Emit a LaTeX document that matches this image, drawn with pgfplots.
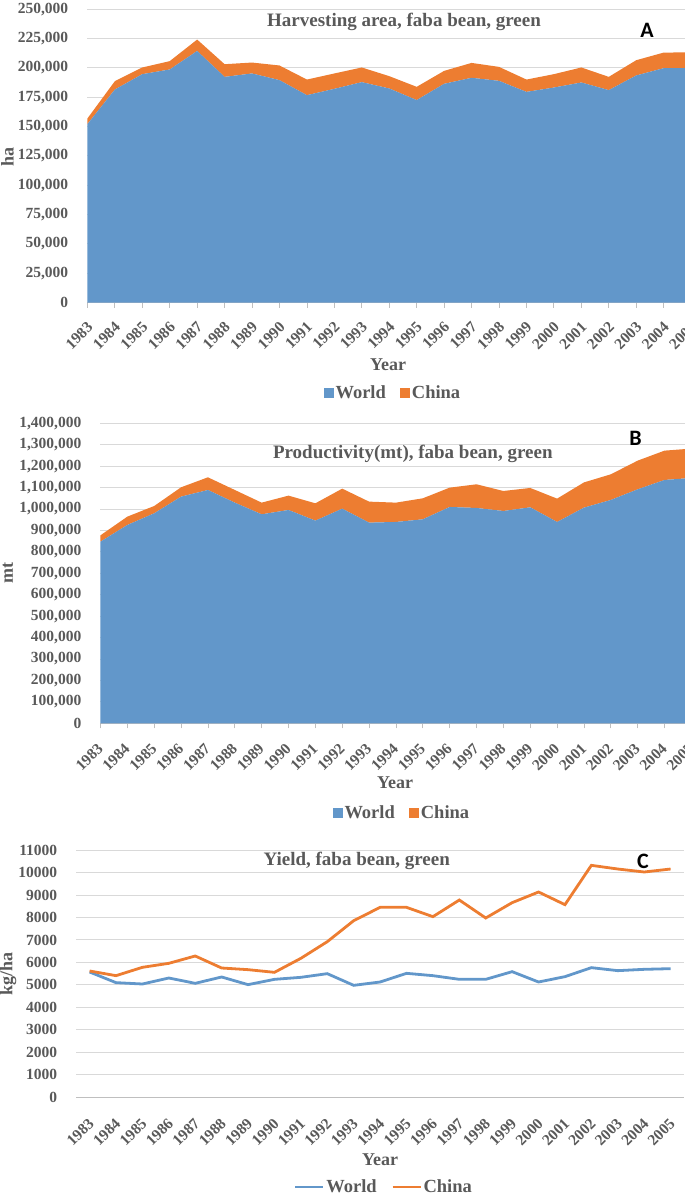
\documentclass[border=0pt]{standalone}
\usepackage{pgfplots}
\pgfplotsset{compat=1.18}
\usepackage{fontspec}
\setmainfont{Liberation Serif}
\newfontfamily\letterf{Carlito}
\definecolor{wblue}{HTML}{6297CA}
\definecolor{corange}{HTML}{ED7D31}
\definecolor{txtgrey}{HTML}{595959}
\definecolor{gridgrey}{HTML}{D9D9D9}
\definecolor{axgrey}{HTML}{BFBFBF}
\newcommand\tf{\fontsize{15.5}{17}\selectfont\bfseries}
\newcommand\lf{\fontsize{18.5}{20}\selectfont\bfseries}
\newcommand\titf{\fontsize{19}{21}\selectfont\bfseries}
\newcommand\labf{\fontsize{18}{20}\selectfont\bfseries}
\newcommand\letf{\fontsize{22}{24}\selectfont\letterf\bfseries}

\pgfplotsset{
 excel/.style={
  scale only axis, anchor=south west,
  axis lines*=left,
  y axis line style={draw=none},
  x axis line style={draw=axgrey, line width=0.8pt},
  ytick style={draw=none},
  xtick style={draw=axgrey, line width=0.8pt},
  tick align=outside, major tick length=5pt,
  ymajorgrids, grid style={draw=gridgrey, line width=0.9pt},
  ymin=0,
  xtick={0,...,22},
  xticklabels={1983,1984,1985,1986,1987,1988,1989,1990,1991,1992,1993,1994,1995,1996,1997,1998,1999,2000,2001,2002,2003,2004,2005},
  /pgf/number format/assume math mode=true,
  scaled y ticks=false,
  ticklabel style={font=\tf, text=txtgrey},
  yticklabel style={anchor=east, inner sep=0pt, xshift=-14pt, /pgf/number format/.cd, fixed, 1000 sep={,}},
  legend style={draw=none, fill=none, legend columns=2, font=\lf, text=txtgrey, anchor=center,
    /tikz/every even column/.append style={column sep=13pt}, nodes={inner sep=1.5pt}},
  legend cell align=left,
 }}

\begin{document}
\begin{tikzpicture}
% ---------------- Panel A ----------------
\begin{axis}[excel,
  at={(87.4pt,-302.5pt)}, width=603.7pt, height=293.2pt,
  xmin=0, xmax=22, ymax=250000,
  ytick={0,25000,...,250000},
  xticklabel style={anchor=north east, inner sep=0pt, xshift=-1pt, yshift=-13pt, rotate=45},
  stack plots=y,
  legend style={at={(0.506,-0.309)}},
  legend image code/.code={\fill[#1] (0pt,-5pt) rectangle (10pt,5pt);},
]
\addplot[fill=wblue, draw=none] coordinates {
(0,152100)(1,181600)(2,194700)(3,198700)(4,214500)(5,192400)(6,195300)(7,189600)(8,176800)(9,182200)(10,187900)(11,182500)(12,172600)(13,186500)(14,191600)(15,189000)(16,179600)(17,183300)(18,187600)(19,181100)(20,193600)(21,199800)(22,200000)
} \closedcycle;
\addplot[fill=corange, draw=none] coordinates {
(0,4800)(1,7100)(2,5700)(3,7100)(4,9700)(5,10800)(6,9300)(7,12500)(8,13300)(9,13100)(10,12500)(11,10500)(12,11300)(13,11000)(14,12700)(15,11900)(16,10500)(17,11400)(18,12800)(19,11300)(20,13000)(21,13300)(22,13300)
} \closedcycle;
\legend{World, China}
\end{axis}

% ---------------- Panel B ----------------
\begin{axis}[excel,
  at={(100.5pt,-723.3pt)}, width=590.9pt, height=300pt,
  xmin=0, xmax=22, ymax=1400000,
  ytick={0,100000,...,1400000},
  xticklabel style={anchor=north east, inner sep=0pt, xshift=-4pt, yshift=-14pt, rotate=45},
  stack plots=y,
  legend style={at={(0.510,-0.299)}},
  legend image code/.code={\fill[#1] (0pt,-5pt) rectangle (10pt,5pt);},
]
\addplot[fill=wblue, draw=none] coordinates {
(0,847800)(1,925600)(2,980000)(3,1057800)(4,1088900)(5,1029800)(6,975400)(7,995600)(8,945800)(9,1001800)(10,936500)(11,939600)(12,952000)(13,1009600)(14,1004900)(15,990900)(16,1008000)(17,939600)(18,1006500)(19,1042300)(20,1092000)(21,1135600)(22,1145000)
} \closedcycle;
\addplot[fill=corange, draw=none] coordinates {
(0,29600)(1,38900)(2,34200)(3,43600)(4,59100)(5,59100)(6,54400)(7,66900)(8,80900)(9,93300)(10,98000)(11,90200)(12,98000)(13,90200)(14,110500)(15,93300)(16,90300)(17,108900)(18,117700)(19,119700)(20,133800)(21,136900)(22,137000)
} \closedcycle;
\legend{World, China}
\end{axis}

% ---------------- Panel C ----------------
\begin{axis}[excel,
  at={(76.4pt,-1097.3pt)}, width=607.4pt, height=247.3pt,
  xmin=-0.5, xmax=22.5, ymax=11000,
  ytick={0,1000,...,11000},
  xtick style={draw=none},
  yticklabel style={/pgf/number format/1000 sep={}},
  xticklabel style={anchor=north east, inner sep=0pt, xshift=-2pt, yshift=-15pt, rotate=45},
  legend style={at={(0.506,-0.3627)}},
  legend image code/.code={\draw[#1] (0pt,0pt) -- (28pt,0pt);},
]
\addplot[wblue, line width=2.8pt] coordinates {
(0,5574)(1,5100)(2,5040)(3,5307)(4,5070)(5,5352)(6,5011)(7,5248)(8,5337)(9,5500)(10,4981)(11,5129)(12,5515)(13,5411)(14,5248)(15,5248)(16,5589)(17,5129)(18,5367)(19,5767)(20,5634)(21,5693)(22,5722)
};
\addplot[corange, line width=2.8pt] coordinates {
(0,5619)(1,5411)(2,5782)(3,5960)(4,6286)(5,5752)(6,5678)(7,5559)(8,6182)(9,6923)(10,7857)(11,8450)(12,8450)(13,8035)(14,8776)(15,7976)(16,8658)(17,9132)(18,8569)(19,10318)(20,10155)(21,10022)(22,10155)
};
\legend{World, China}
\end{axis}

% ---------------- texts ----------------
\node[font=\titf, text=txtgrey] at (404pt,-21.7pt) {Harvesting area, faba bean, green};
\node[font=\letf] at (647pt,-30pt) {A};
\node[font=\labf, text=txtgrey] at (388pt,-365pt) {Year};
\node[font=\labf, text=txtgrey, rotate=90] at (7.5pt,-157pt) {ha};

\node[font=\titf, text=txtgrey] at (412.8pt,-454pt) {Productivity(mt), faba bean, green};
\node[font=\letf] at (635.6pt,-438pt) {B};
\node[font=\labf, text=txtgrey] at (395pt,-783pt) {Year};
\node[font=\labf, text=txtgrey, rotate=90] at (8pt,-573pt) {mt};

\node[font=\titf, text=txtgrey] at (356.7pt,-860.7pt) {Yield, faba bean, green};
\node[font=\letf] at (643pt,-861.5pt) {C};
\node[font=\labf, text=txtgrey] at (380pt,-1160pt) {Year};
\node[font=\labf, text=txtgrey, rotate=90] at (8pt,-973.5pt) {kg/ha};

\pgfresetboundingbox
\path[use as bounding box] (0pt,0pt) rectangle (685pt,-1194pt);
\end{tikzpicture}
\end{document}
